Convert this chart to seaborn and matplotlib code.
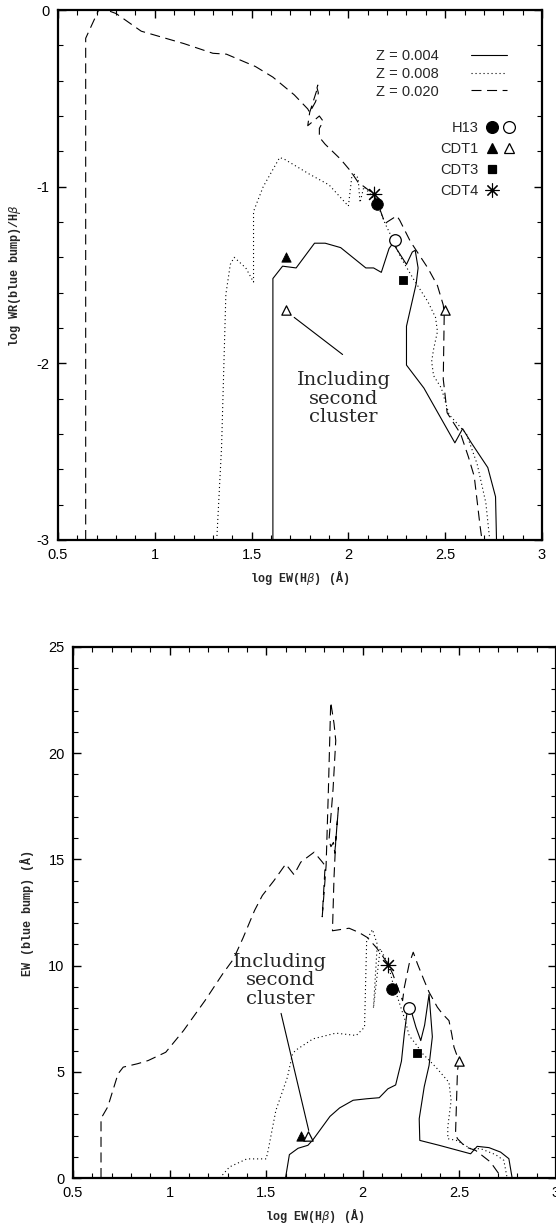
import matplotlib
matplotlib.use("Agg")
import numpy as np
import pandas as pd
import matplotlib.pyplot as plt
import seaborn as sns
from matplotlib.lines import Line2D
from matplotlib.legend_handler import HandlerTuple
from matplotlib.ticker import MultipleLocator, FormatStrFormatter

sns.set_theme(style="white")
plt.rcParams["font.family"] = ["Liberation Sans", "DejaVu Sans"]

# ---- top panel: log WR(blue bump)/Hbeta vs log EW(Hbeta)
z004_top_x = [1.61, 1.61, 1.66, 1.73, 1.825, 1.88, 1.96, 2.09, 2.13, 2.17, 2.21, 2.23, 2.30, 2.33,
              2.345, 2.36, 2.35, 2.30, 2.30, 2.39, 2.55, 2.59, 2.635, 2.72, 2.76, 2.765]
z004_top_y = [-3.0, -1.52, -1.45, -1.46, -1.32, -1.32, -1.345, -1.46, -1.46, -1.485, -1.35, -1.32, -1.44, -1.37,
              -1.36, -1.46, -1.55, -1.79, -2.01, -2.14, -2.45, -2.37, -2.45, -2.59, -2.755, -3.0]

z008_top_x = [1.32, 1.345, 1.367, 1.39, 1.41, 1.47, 1.51, 1.51, 1.56, 1.645, 1.67, 1.80, 1.90, 2.00,
              2.02, 2.05, 2.06, 2.08, 2.115, 2.15, 2.19, 2.23, 2.27, 2.34, 2.41, 2.45, 2.46, 2.44,
              2.43, 2.44, 2.48, 2.52, 2.61, 2.665, 2.71, 2.73]
z008_top_y = [-3.0, -2.47, -1.61, -1.44, -1.40, -1.46, -1.54, -1.14, -1.0, -0.835, -0.845, -0.93, -0.99, -1.11,
              -0.92, -0.95, -1.09, -1.0, -1.044, -1.10, -1.21, -1.30, -1.40, -1.53, -1.65, -1.74, -1.82, -1.92,
              -1.99, -2.07, -2.14, -2.29, -2.40, -2.57, -2.79, -3.0]

z020_top_x = [0.643, 0.643, 0.71, 0.75, 0.80, 0.93, 1.15, 1.30, 1.37, 1.52, 1.61, 1.72, 1.79, 1.80,
              1.83, 1.845, 1.838, 1.842, 1.835, 1.80, 1.79, 1.85, 1.87, 1.85, 1.85, 1.88, 1.96, 2.01,
              2.05, 2.13, 2.16, 2.19, 2.20, 2.25, 2.265, 2.32, 2.41, 2.46, 2.49, 2.495, 2.49, 2.51,
              2.58, 2.62, 2.65, 2.68, 2.69]
z020_top_y = [-3.0, -0.16, 0.0, 0.0, -0.02, -0.12, -0.19, -0.245, -0.25, -0.32, -0.38, -0.48, -0.56, -0.58,
              -0.52, -0.47, -0.44, -0.425, -0.46, -0.58, -0.655, -0.60, -0.63, -0.67, -0.72, -0.76, -0.845, -0.91,
              -0.975, -1.04, -1.12, -1.21, -1.20, -1.165, -1.19, -1.31, -1.46, -1.56, -1.67, -1.72, -2.09, -2.28,
              -2.40, -2.53, -2.64, -2.92, -3.0]

# observed objects, top panel
h13_top_x, h13_top_y = [2.15], [-1.10]
h13o_top_x, h13o_top_y = [2.24], [-1.30]
cdt1_top_x, cdt1_top_y = [1.68], [-1.40]
cdt1o_top_x, cdt1o_top_y = [1.68, 2.50], [-1.70, -1.70]
cdt3_top_x, cdt3_top_y = [2.28], [-1.53]
cdt4_top_x, cdt4_top_y = [2.13], [-1.04]

# ---- bottom panel: EW(blue bump) vs log EW(Hbeta)
z004_bot_x = [1.60, 1.62, 1.665, 1.716, 1.742, 1.83, 1.88, 1.95, 2.02, 2.085, 2.13, 2.17, 2.20, 2.215,
              2.232, 2.24, 2.275, 2.30, 2.32, 2.343, 2.36, 2.343, 2.318, 2.292, 2.295, 2.395, 2.558, 2.592,
              2.653, 2.713, 2.756, 2.773]
z004_bot_y = [0.0, 1.1, 1.4, 1.54, 1.80, 2.9, 3.3, 3.66, 3.73, 3.78, 4.2, 4.38, 5.5, 6.8,
              8.0, 8.2, 7.1, 6.47, 7.2, 8.65, 6.65, 5.3, 4.3, 2.79, 1.77, 1.54, 1.14, 1.49,
              1.43, 1.22, 0.91, 0.0]

z008_bot_x = [1.26, 1.31, 1.40, 1.50, 1.51, 1.55, 1.61, 1.635, 1.65, 1.742, 1.86, 1.966, 2.009, 2.02,
              2.05, 2.075, 2.055, 2.09, 2.13, 2.155, 2.18, 2.22, 2.24, 2.275, 2.31, 2.38, 2.446, 2.457,
              2.44, 2.44, 2.485, 2.559, 2.61, 2.687, 2.73, 2.747]
z008_bot_y = [0.0, 0.52, 0.9, 0.9, 1.3, 3.18, 4.75, 5.8, 6.0, 6.55, 6.82, 6.71, 7.1, 11.2,
              11.7, 11.0, 8.0, 10.8, 10.1, 9.2, 8.5, 7.4, 6.7, 6.3, 5.85, 5.2, 4.5, 3.65,
              2.4, 1.85, 1.77, 1.38, 1.38, 1.1, 0.83, 0.0]

z020_bot_x = [0.645, 0.645, 0.68, 0.733, 0.76, 0.834, 0.889, 0.98, 1.072, 1.183, 1.274, 1.33, 1.38, 1.44,
              1.48, 1.54, 1.601, 1.644, 1.679, 1.748, 1.791, 1.805, 1.79, 1.81, 1.822, 1.834, 1.851, 1.86,
              1.846, 1.825, 1.835, 1.848, 1.855, 1.874, 1.86, 1.851, 1.843, 1.886, 1.929, 1.98, 2.024, 2.069,
              2.095, 2.13, 2.155, 2.18, 2.206, 2.215, 2.24, 2.261, 2.283, 2.318, 2.343, 2.386, 2.412, 2.446,
              2.46, 2.472, 2.498, 2.49, 2.48, 2.49, 2.532, 2.584, 2.661, 2.704, 2.713]
z020_bot_y = [0.0, 2.8, 3.35, 4.9, 5.22, 5.38, 5.53, 5.92, 6.94, 8.35, 9.6, 10.3, 11.3, 12.6,
              13.3, 14.0, 14.78, 14.28, 14.87, 15.34, 14.87, 14.7, 12.3, 14.7, 18.3, 22.4, 21.4, 20.6,
              18.3, 15.9, 15.6, 15.8, 15.3, 17.45, 15.9, 14.15, 11.64, 11.7, 11.76, 11.56, 11.32, 10.86,
              10.55, 10.08, 9.61, 8.98, 8.35, 8.98, 10.08, 10.63, 10.08, 9.29, 8.75, 8.04, 7.73, 7.41,
              6.79, 6.16, 5.5, 5.06, 2.08, 1.85, 1.46, 1.30, 0.75, 0.2, 0.0]

# observed objects, bottom panel
h13_bot_x, h13_bot_y = [2.15], [8.9]
h13o_bot_x, h13o_bot_y = [2.24], [8.0]
cdt1_bot_x, cdt1_bot_y = [1.68], [2.0]
cdt1o_bot_x, cdt1o_bot_y = [1.715, 2.50], [2.0, 5.5]
cdt3_bot_x, cdt3_bot_y = [2.28], [5.9]
cdt4_bot_x, cdt4_bot_y = [2.133], [10.05]

z_labels = ["Z = 0.004", "Z = 0.008", "Z = 0.020"]
obj_labels = ["H13", "CDT1", "CDT3", "CDT4"]
note_text = "Including\nsecond\ncluster"
note_top_xy, note_top_line = (1.975, -2.20), ((1.72, -1.74), (1.97, -1.95))
note_bot_xy, note_bot_line = (1.573, 9.3), ((1.577, 7.75), (1.72, 2.24))

styles = {"solid": "-", "dotted": (0, (1, 2.6)), "dashed": (0, (9, 5))}
LW = 0.8
mono = ["Liberation Mono", "DejaVu Sans Mono"]
serif = ["DejaVu Serif", "Liberation Serif"]


def draw_curves(ax, curves):
    for xs, ys, ls in curves:
        sns.lineplot(x=xs, y=ys, sort=False, estimator=None, color="black",
                     lw=LW, linestyle=styles[ls], ax=ax)


def draw_points(ax, pts):
    filled = dict(color="black", edgecolor="black", linewidth=0.6)
    opened = dict(color="white", edgecolor="black", linewidth=0.9)
    sns.scatterplot(x=pts["h13"][0], y=pts["h13"][1], marker="o", s=70, zorder=5, ax=ax, **filled)
    sns.scatterplot(x=pts["h13o"][0], y=pts["h13o"][1], marker="o", s=70, zorder=5, ax=ax, **opened)
    sns.scatterplot(x=pts["cdt1"][0], y=pts["cdt1"][1], marker="^", s=45, zorder=5, ax=ax, **filled)
    sns.scatterplot(x=pts["cdt1o"][0], y=pts["cdt1o"][1], marker="^", s=45, zorder=5, ax=ax, **opened)
    sns.scatterplot(x=pts["cdt3"][0], y=pts["cdt3"][1], marker="s", s=40, zorder=5, ax=ax, **filled)
    sns.scatterplot(x=pts["cdt4"][0], y=pts["cdt4"][1], marker=(8, 2, 0), s=110, zorder=5,
                    color="black", linewidth=0.8, ax=ax)


def style_axes(ax, ymaj, ymin):
    ax.set_xlim(0.5, 3.0)
    ax.xaxis.set_major_locator(MultipleLocator(0.5))
    ax.xaxis.set_minor_locator(MultipleLocator(0.1))
    ax.yaxis.set_major_locator(MultipleLocator(ymaj))
    ax.yaxis.set_minor_locator(MultipleLocator(ymin))
    ax.xaxis.set_major_formatter(FormatStrFormatter("%g"))
    ax.yaxis.set_major_formatter(FormatStrFormatter("%g"))
    ax.tick_params(which="both", direction="in", top=True, right=True, bottom=True, left=True,
                   color="black", labelsize=10.5, labelcolor="black")
    ax.tick_params(which="major", length=6, width=1.0, pad=6)
    ax.tick_params(which="minor", length=3.5, width=0.8)
    for sp in ax.spines.values():
        sp.set_color("black")
        sp.set_linewidth(1.6)
    ax.set_xlabel("log EW(H$\\beta$) (Å)", family=mono, fontweight="bold", fontsize=8.5, labelpad=4)


fig = plt.figure(figsize=(5.56, 12.30), dpi=100)
ax1 = fig.add_axes([58 / 556, 1 - 540 / 1230, 484 / 556, 530 / 1230])
ax2 = fig.add_axes([73 / 556, 1 - 1178 / 1230, 483 / 556, 531 / 1230])

# top panel
draw_curves(ax1, [(z004_top_x, z004_top_y, "solid"),
                  (z008_top_x, z008_top_y, "dotted"),
                  (z020_top_x, z020_top_y, "dashed")])
draw_points(ax1, {"h13": (h13_top_x, h13_top_y), "h13o": (h13o_top_x, h13o_top_y),
                  "cdt1": (cdt1_top_x, cdt1_top_y), "cdt1o": (cdt1o_top_x, cdt1o_top_y),
                  "cdt3": (cdt3_top_x, cdt3_top_y), "cdt4": (cdt4_top_x, cdt4_top_y)})
style_axes(ax1, 1, 0.2)
ax1.set_ylim(-3, 0)
ax1.set_ylabel("log WR(blue bump)/H$\\beta$", family=mono, fontweight="bold", fontsize=8.5, labelpad=10)
ax1.annotate("", xy=note_top_line[1], xytext=note_top_line[0],
             arrowprops=dict(arrowstyle="-", lw=0.8, color="black", shrinkA=0, shrinkB=0))
ax1.text(*note_top_xy, note_text, family=serif, fontsize=14, ha="center", va="center",
         linespacing=1.05)

# legends (top panel only)
line_handles = [Line2D([], [], color="black", lw=LW, linestyle=styles[k])
                for k in ["solid", "dotted", "dashed"]]
leg1 = ax1.legend(line_handles, z_labels, loc="upper left", bbox_to_anchor=(0.657, 0.927),
                  frameon=False, markerfirst=False, fontsize=10.5, handlelength=2.5,
                  handletextpad=2.2, labelspacing=0.27, borderpad=0, borderaxespad=0)
ax1.add_artist(leg1)

def mk(marker, fc, ms=8, mew=0.9):
    return Line2D([], [], linestyle="none", marker=marker, markersize=ms,
                  markerfacecolor=fc, markeredgecolor="black", markeredgewidth=mew, color="black")

blank = Line2D([], [], linestyle="none")
obj_handles = [(mk("o", "black", 8.5), mk("o", "white", 8.5)),
               (mk("^", "black", 7), mk("^", "white", 7)),
               (mk("s", "black", 6.3), blank),
               (mk((8, 2, 0), "black", 10, 0.8), blank)]
ax1.legend(obj_handles, obj_labels, loc="upper left", bbox_to_anchor=(0.789, 0.790),
           frameon=False, markerfirst=False, fontsize=10.5, handlelength=2.34,
           handletextpad=0.35, labelspacing=0.48, borderpad=0, borderaxespad=0,
           handler_map={tuple: HandlerTuple(ndivide=None)})

# bottom panel
draw_curves(ax2, [(z004_bot_x, z004_bot_y, "solid"),
                  (z008_bot_x, z008_bot_y, "dotted"),
                  (z020_bot_x, z020_bot_y, "dashed")])
draw_points(ax2, {"h13": (h13_bot_x, h13_bot_y), "h13o": (h13o_bot_x, h13o_bot_y),
                  "cdt1": (cdt1_bot_x, cdt1_bot_y), "cdt1o": (cdt1o_bot_x, cdt1o_bot_y),
                  "cdt3": (cdt3_bot_x, cdt3_bot_y), "cdt4": (cdt4_bot_x, cdt4_bot_y)})
style_axes(ax2, 5, 1)
ax2.set_ylim(0, 25)
ax2.set_ylabel("EW (blue bump) (Å)", family=mono, fontweight="bold", fontsize=8.5, labelpad=10)
ax2.annotate("", xy=note_bot_line[1], xytext=note_bot_line[0],
             arrowprops=dict(arrowstyle="-", lw=0.8, color="black", shrinkA=0, shrinkB=0))
ax2.text(*note_bot_xy, note_text, family=serif, fontsize=14, ha="center", va="center",
         linespacing=1.05)

fig.savefig("out.png", dpi=100, facecolor="white")
